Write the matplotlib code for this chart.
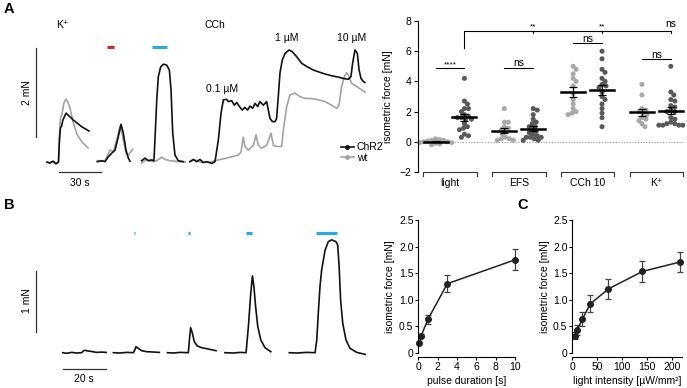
import numpy as np
import matplotlib
matplotlib.use("Agg")
import matplotlib.pyplot as plt
from matplotlib.lines import Line2D

plt.rcParams['font.family'] = ['Liberation Sans', 'DejaVu Sans']
plt.rcParams['font.size'] = 7

W, H = 687, 388

# ---------------- Panel A traces (time in s, force in mN) ----------------
k_t_chr2 = [0, 2.1, 4.3, 6.4, 8.2, 8.9, 9.6, 10.4, 11.4, 13.6, 15.7, 18.6, 21.4, 25, 30]
k_f_chr2 = [0.02, 0, 0.04, -0.02, 0.02, 0.52, 0.79, 0.83, 0.97, 1.12, 1.06, 0.97, 0.90, 0.81, 0.72]
k_t_wt = [0, 2.1, 4.3, 6.4, 8.2, 8.9, 9.6, 10.7, 12.1, 13.6, 15, 16.4, 18.6, 21.4, 25, 29.3]
k_f_wt = [0.02, 0, 0.04, 0, 0.02, 0.63, 1.01, 1.10, 1.35, 1.44, 1.35, 1.24, 0.92, 0.65, 0.47, 0.34]

r_t_chr2 = [35.9, 39.1, 41.4, 43.8, 46.2, 48.6, 50.9, 52.9, 54.5, 56.4, 58.1, 59.3]
r_f_chr2 = [0.03, 0.05, 0.03, 0.14, 0.22, 0.29, 0.59, 0.87, 0.67, 0.29, 0.11, 0.04]
r_t_wt = [35.9, 41.4, 45, 47.4, 49.8, 52.1, 54.1, 56.4, 58.1, 59.8, 61.2]
r_f_wt = [0.05, 0.05, 0.29, 0.25, 0.52, 0.83, 0.59, 0.22, 0.18, 0.25, 0.31]

b_t_chr2 = [67.6, 70, 72.4, 74.8, 76.4, 77.1, 78.4, 79.5, 81.2, 83.1, 85.5, 87.4, 88.6, 89.8, 91.4, 93.8, 97.4]
b_f_chr2 = [0.05, 0.11, 0.05, 0.07, 0.05, 0.52, 1.42, 1.94, 2.16, 2.22, 2.20, 2.09, 1.64, 0.67, 0.18, 0.05, 0.03]
b_t_wt = [67.6, 71.2, 75.9, 78.4, 81.9, 84.3, 87.9, 95, 98.6]
b_f_wt = [0.0, 0.08, 0.03, 0.05, 0.13, 0.08, 0.05, 0.03, 0.02]

c_t_chr2 = [102.1, 104.5, 106.9, 109.3, 111.7, 114.0, 117.6, 120.0, 122.4, 124.3, 126.0, 128.3,
            129.5, 131.9, 133.8, 135.5, 137.9, 139.5, 141.4, 143.3, 145.0, 146.9, 148.6, 150.5,
            152.1, 154.5, 156.9, 158.1, 159.3, 161.0, 162.9, 164.0, 165.2, 166.4, 168.1, 170.0,
            172.9, 175.2, 178.3, 181.9, 185.5, 190.2, 193.8, 198.6, 203.3, 208.1, 211.7, 215.2,
            217.1, 218.3, 220.0, 221.7, 222.9, 224.3, 226.0, 227.1]
c_f_chr2 = [0.03, 0.08, 0.03, 0.08, 0.01, 0.03, -0.01, 0.03, 0.52, 1.12, 1.42, 1.43,
            1.38, 1.40, 1.30, 1.36, 1.25, 1.19, 1.25, 1.19, 1.28, 1.23, 1.34, 1.27,
            1.38, 1.30, 1.38, 1.19, 1.00, 0.93, 0.93, 1.00, 1.49, 2.02, 2.32, 2.46,
            2.54, 2.50, 2.39, 2.24, 2.17, 2.09, 2.05, 2.00, 1.96, 1.93, 1.90, 1.88,
            1.94, 2.24, 2.54, 2.46, 2.09, 1.90, 1.83, 1.81]
c_t_wt = [102.1, 105.7, 110.5, 117.6, 122.4, 127.1, 131.9, 136.7, 138.6, 140.2, 141.4, 143.8,
          147.4, 149.3, 150.9, 153.3, 156.9, 160.0, 161.7, 164.0, 167.6, 168.8, 171.2, 173.6,
          177.1, 180.7, 184.3, 189.0, 193.8, 198.6, 203.3, 206.9, 208.6, 210.5, 212.4, 214.0,
          215.2, 217.6, 221.2, 224.8, 227.1]
c_f_wt = [0.03, 0.07, 0.01, 0.03, 0.07, 0.10, 0.14, 0.18, 0.25, 0.58, 0.37, 0.29,
          0.40, 0.63, 0.40, 0.33, 0.40, 0.67, 0.40, 0.37, 0.37, 0.74, 1.27, 1.53,
          1.57, 1.49, 1.45, 1.45, 1.42, 1.38, 1.30, 1.23, 1.30, 1.72, 1.94, 2.03,
          1.98, 1.79, 1.72, 1.64, 1.59]

red_stim = (43, 48)
blue_stim = (75, 86)

# ---------------- Panel B traces ----------------
p1_t = [-0.3, 1.6, 3.95, 6.3, 8.6, 9.4, 10.2, 11.3, 13.3, 15.7, 18.0, 20.1]
p1_f = [0, -0.01, 0.005, -0.005, 0, 0.03, 0.04, 0.03, 0.02, 0.005, 0.01, 0.005]
p2_t = [23.5, 26.6, 29.8, 32.9, 33.7, 34.1, 35.2, 36.8, 39.2, 42.3, 45.1]
p2_f = [0, -0.005, 0.005, 0, 0.055, 0.098, 0.071, 0.033, 0.016, 0.011, 0.005]
p3_t = [48.9, 51.7, 54.8, 58.7, 59.2, 59.8, 60.6, 61.5, 62.9, 65.0, 68.1, 71.7]
p3_f = [0, -0.005, 0.005, 0, 0.21, 0.41, 0.32, 0.18, 0.11, 0.082, 0.06, 0.033]
p4_t = [75.9, 79.8, 83.0, 85.8, 86.9, 88.0, 88.8, 89.5, 90.3, 91.3, 92.7, 94.7, 97.4]
p4_f = [0, -0.005, 0.005, 0, 0.43, 0.97, 1.26, 1.08, 0.75, 0.43, 0.21, 0.082, 0.016]
p5_t = [106.1, 109.6, 114.3, 118.2, 119.0, 119.8, 120.5, 121.3, 122.9, 124.4, 126.0, 128.0,
        128.8, 129.5, 130.2, 131.2, 132.7, 134.6, 137.8, 141.7]
p5_f = [0, -0.005, 0.005, 0, 0.21, 0.70, 1.08, 1.36, 1.68, 1.82, 1.85, 1.82,
        1.77, 1.41, 0.86, 0.48, 0.21, 0.071, 0.005, -0.027]
pulse_start = [9.2, 33.2, 58.5, 85.6, 118.6]
pulse_dur = [0.1, 0.3, 1, 3, 10]

# ---------------- Panel A scatter ----------------
categories = ['light', 'EFS', 'CCh 10', 'K⁺']
wt_vals = [
    [0.2, 0.15, 0.1, 0.05, 0.0, 0.0, -0.05, -0.1, -0.15, -0.2, 0.1, -0.05],
    [2.2, 1.3, 1.3, 1.0, 0.9, 0.8, 0.7, 0.5, 0.3, 0.2, 0.2, 0.1, 0.1],
    [5.0, 4.8, 4.5, 4.2, 4.0, 3.7, 3.2, 2.8, 2.5, 2.2, 2.0, 1.9, 1.8],
    [3.8, 3.1, 2.2, 2.1, 2.0, 1.9, 1.8, 1.6, 1.5, 1.4, 1.2, 1.0],
]
chr2_vals = [
    [4.2, 2.7, 2.5, 2.2, 2.2, 2.0, 1.8, 1.7, 1.6, 1.6, 1.5, 1.5, 1.2, 1.0, 0.9, 0.8, 0.5, 0.4, 0.3],
    [2.2, 2.1, 1.8, 1.5, 1.3, 1.2, 1.0, 1.0, 0.8, 0.7, 0.6, 0.5, 0.4, 0.3, 0.3, 0.2, 0.3, 0.1, 0.1],
    [6.0, 5.5, 4.8, 4.6, 4.2, 4.0, 3.8, 3.7, 3.6, 3.3, 3.0, 2.8, 2.5, 2.2, 1.9, 1.6, 1.0],
    [5.0, 3.3, 3.1, 2.8, 2.7, 2.4, 2.3, 2.1, 2.0, 2.0, 1.6, 1.5, 1.3, 1.2, 1.1, 1.1, 1.1, 1.1, 1.2],
]

# ---------------- Panel B/C dose response ----------------
dur_x = [0.1, 0.3, 1, 3, 10]
dur_y = [0.175, 0.32, 0.63, 1.3, 1.75]
dur_err = [0.0, 0.03, 0.08, 0.165, 0.2]
int_x = [5, 10, 20, 36, 72, 140, 216]
int_y = [0.32, 0.43, 0.63, 0.92, 1.2, 1.53, 1.71]
int_err = [0.07, 0.1, 0.13, 0.16, 0.19, 0.19, 0.19]

BLACK = '#111111'
GRAY = '#a3a3a3'
WTC = '#a8a8a8'
CHC = '#585858'
BLUE = '#29abe2'
RED = '#d3262b'

fig = plt.figure(figsize=(W / 100, H / 100), dpi=100)


def rect(x0, y0, x1, y1):
    return [x0 / W, 1 - y1 / H, (x1 - x0) / W, (y1 - y0) / H]


def ftext(x, y, s, **kw):
    kw.setdefault('ha', 'center')
    kw.setdefault('va', 'center')
    return fig.text(x / W, 1 - y / H, s, **kw)


# ===== A traces =====
A_T0, A_PXS, A_BASE, A_PXF = 47, 1.4, 163, 44.5
axA = fig.add_axes(rect(0, 10, 375, 195))
axA.set_xlim((0 - A_T0) / A_PXS, (375 - A_T0) / A_PXS)
axA.set_ylim((A_BASE - 195) / A_PXF, (A_BASE - 10) / A_PXF)
axA.axis('off')
for (tc, fc, tw, fw) in [(k_t_chr2, k_f_chr2, k_t_wt, k_f_wt),
                         (r_t_chr2, r_f_chr2, r_t_wt, r_f_wt),
                         (b_t_chr2, b_f_chr2, b_t_wt, b_f_wt),
                         (c_t_chr2, c_f_chr2, c_t_wt, c_f_wt)]:
    axA.plot(tw, fw, color=GRAY, lw=1.2, solid_joinstyle='round')
    axA.plot(tc, fc, color=BLACK, lw=1.2, solid_joinstyle='round')
axA.plot(red_stim, [2.61, 2.61], color=RED, lw=2.2, solid_capstyle='butt')
axA.plot(blue_stim, [2.61, 2.61], color=BLUE, lw=2.2, solid_capstyle='butt')
# scale bars
axA.plot([-7.86, -7.86], [0.584, 2.584], color='#333333', lw=0.9)
axA.plot([8.57, 38.57], [-0.202, -0.202], color='#333333', lw=0.9)
ftext(27, 93, '2 mN', rotation=90, fontsize=7.5)
ftext(80, 183, '30 s', fontsize=7.5)
ftext(62, 25, 'K⁺', fontsize=7.5)
ftext(215, 25, 'CCh', fontsize=7.5)
ftext(222, 89, '0.1 µM', fontsize=7.5)
ftext(287, 38, '1 µM', fontsize=7.5)
ftext(352, 38, '10 µM', fontsize=7.5)
hands = [Line2D([], [], color=BLACK, lw=1.2, marker='o', ms=2.5),
         Line2D([], [], color=GRAY, lw=1.2, marker='o', ms=2.5)]
axA.legend(hands, ['ChR2', 'wt'], loc='center left', bbox_to_anchor=(341 / W, 1 - 152.5 / H),
           bbox_transform=fig.transFigure, frameon=False, fontsize=7.5, handlelength=1.2,
           handletextpad=0.3, labelspacing=0.05, borderpad=0, borderaxespad=0, numpoints=1)
ftext(9, 9, 'A', fontsize=10.5, fontweight='bold')

# ===== B traces =====
B_T0, B_PXS, B_BASE, B_PXF = 63.3, 2.13, 352.7, 61
axB = fig.add_axes(rect(0, 205, 375, 388))
axB.set_xlim((0 - B_T0) / B_PXS, (375 - B_T0) / B_PXS)
axB.set_ylim((B_BASE - 388) / B_PXF, (B_BASE - 205) / B_PXF)
axB.axis('off')
for t, f in [(p1_t, p1_f), (p2_t, p2_f), (p3_t, p3_f), (p4_t, p4_f), (p5_t, p5_f)]:
    axB.plot(t, f, color=BLACK, lw=1.2, solid_joinstyle='round')
for s, d in zip(pulse_start, pulse_dur):
    axB.plot([s, s + d], [1.96, 1.96], color=BLUE, lw=2.3, solid_capstyle='butt')
axB.plot([-12.8, -12.8], [0.344, 1.344], color='#333333', lw=0.9)
axB.plot([0, 20], [-0.272, -0.272], color='#333333', lw=0.9)
ftext(27, 301, '1 mN', rotation=90, fontsize=7.5)
ftext(84, 379, '20 s', fontsize=7.5)
ftext(9, 205, 'B', fontsize=10.5, fontweight='bold')
ftext(523, 205, 'C', fontsize=10.5, fontweight='bold')

# ===== A scatter =====
axS = fig.add_axes(rect(418, 21, 685, 172))
XL = (-0.465, 3.416)
axS.set_xlim(*XL)
axS.set_ylim(-2, 8)
for sp in ['top', 'right', 'bottom']:
    axS.spines[sp].set_visible(False)
axS.spines['left'].set_linewidth(0.8)
axS.set_xticks([])
axS.set_yticks([-2, 0, 2, 4, 6, 8])
axS.tick_params(axis='y', length=3, width=0.8, pad=2, labelsize=7.5)
axS.axhline(0, color='#999999', lw=0.8, ls=(0, (1, 1.5)), zorder=0)

xppu = (685 - 418) / (XL[1] - XL[0])
yppu = (172 - 21) / 10.0


def swarm(vals, d=4.0):
    vals = np.asarray(vals, float)
    order = np.argsort(-vals, kind='stable')
    placed = []
    offs = np.zeros(len(vals))
    for i in order:
        y = vals[i] * yppu
        chosen = None
        k = 0
        while chosen is None:
            cands = [0.0] if k == 0 else [k * 0.5, -k * 0.5]
            for c in cands:
                if all((c - px) ** 2 + (y - py) ** 2 >= d * d for px, py in placed):
                    chosen = c
                    break
            k += 1
        placed.append((chosen, y))
        offs[i] = chosen / xppu
    return offs


OFF = 0.21
for g, (wv, cv) in enumerate(zip(wt_vals, chr2_vals)):
    for vals, xc, col in [(wv, g - OFF, WTC), (cv, g + OFF, CHC)]:
        o = swarm(vals)
        axS.scatter(xc + o, vals, s=13, color=col, edgecolors='none', zorder=2, clip_on=False)
        m = np.mean(vals)
        sem = np.std(vals, ddof=1) / np.sqrt(len(vals))
        axS.plot([xc - 0.175, xc + 0.175], [m, m], color='k', lw=1.8, zorder=3)
        axS.errorbar([xc], [m], yerr=[sem], fmt='none', ecolor='k', elinewidth=0.9,
                     capsize=3, capthick=0.9, zorder=3)
    axS.plot([g - 0.39, g - 0.39, g + 0.39, g + 0.39], [-2.25, -2, -2, -2.25],
             color='#333333', lw=0.8, clip_on=False)
    axS.text(g, -2.75, categories[g], ha='center', va='center', fontsize=7.5)


def sig(x0, x1, y, label, fs=7.5, dy=0.3):
    axS.plot([x0, x1], [y, y], color='k', lw=0.8, clip_on=False)
    axS.text((x0 + x1) / 2, y + dy, label, ha='center', va='center', fontsize=fs)


sig(0 - OFF, 0 + OFF, 4.89, '****', fs=6, dy=0.22)
sig(1 - OFF, 1 + OFF, 4.89, 'ns')
sig(2 - OFF, 2 + OFF, 6.52, 'ns')
sig(3 - OFF, 3 + OFF, 5.46, 'ns')
ytop = 7.34
axS.plot([0 + OFF, 0 + OFF, 3 + OFF, 3 + OFF], [6.23, ytop, ytop, 7.19], color='k', lw=0.8,
         clip_on=False)
for g, lab in [(1, '**'), (2, '**')]:
    axS.plot([g + OFF, g + OFF], [ytop, 7.19], color='k', lw=0.8)
    axS.text(g + OFF, ytop + 0.3, lab, ha='center', va='center', fontsize=6)
axS.text(3 + OFF, ytop + 0.45, 'ns', ha='center', va='center', fontsize=7.5, clip_on=False)
ftext(388, 97, 'isometric force [mN]', rotation=90, fontsize=7.5)


# ===== dose-response plots =====
def style(ax):
    for sp in ['top', 'right']:
        ax.spines[sp].set_visible(False)
    ax.spines['left'].set_linewidth(0.8)
    ax.spines['bottom'].set_linewidth(0.8)
    ax.spines['bottom'].set_position(('outward', 3))
    ax.tick_params(length=2.5, width=0.8, pad=1, labelsize=7.5)
    ax.set_ylim(0, 2.5)
    ax.set_yticks([0, 0.5, 1.0, 1.5, 2.0, 2.5])
    ax.set_yticklabels(['0', '0.5', '1.0', '1.5', '2.0', '2.5'])


axD = fig.add_axes(rect(418.3, 220, 515, 352.7))
style(axD)
axD.set_xlim(0, 10)
axD.set_xticks([0, 2, 4, 6, 8, 10])
axD.errorbar(dur_x, dur_y, yerr=dur_err, color='#222222', lw=1.1, marker='o', ms=4,
             ecolor='#444444', elinewidth=0.9, capsize=2.5, capthick=0.9, clip_on=False)
ftext(390, 287, 'isometric force [mN]', rotation=90, fontsize=7.5)
ftext(467, 381, 'pulse duration [s]', fontsize=7.5)

axI = fig.add_axes(rect(572.3, 220, 682.3, 352.7))
style(axI)
axI.set_xlim(0, 220)
axI.set_xticks([0, 50, 100, 150, 200])
axI.errorbar(int_x, int_y, yerr=int_err, color='#222222', lw=1.1, marker='o', ms=4,
             ecolor='#444444', elinewidth=0.9, capsize=2.5, capthick=0.9, clip_on=False)
ftext(545, 287, 'isometric force [mN]', rotation=90, fontsize=7.5)
ftext(627, 381, 'light intensity [µW/mm²]', fontsize=7.5)

fig.savefig('out.png', dpi=100)
